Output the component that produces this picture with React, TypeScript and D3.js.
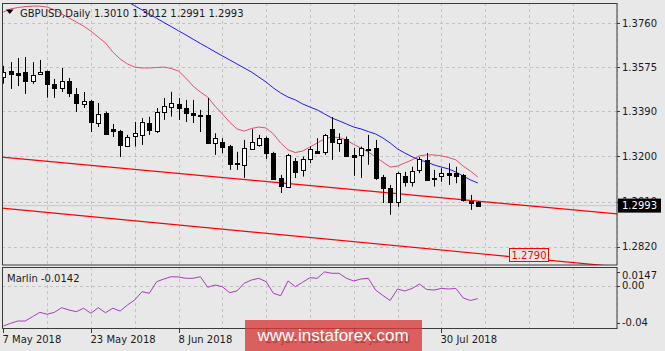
import React, { useEffect, useRef } from 'react';
import { select, scaleLinear, line } from 'd3';

// GBPUSD daily candles, 7 May 2018 .. 6 Aug 2018
const opens = [1.3534, 1.3558, 1.3549, 1.3554, 1.3518, 1.3545, 1.3558, 1.3504, 1.3486, 1.3516,
  1.3461, 1.3421, 1.3432, 1.3341, 1.3381, 1.3315, 1.3307, 1.3245, 1.3285, 1.3290,
  1.3339, 1.3308, 1.3388, 1.3408, 1.3418, 1.3402, 1.3381, 1.3374, 1.3374, 1.3255,
  1.3261, 1.3243, 1.3170, 1.3164, 1.3234, 1.3248, 1.3276, 1.3215, 1.3108, 1.3073,
  1.3182, 1.3140, 1.3188, 1.3224, 1.3218, 1.3315, 1.3255, 1.3272, 1.3206, 1.3206,
  1.3231, 1.3234, 1.3114, 1.3067, 1.3010, 1.3117, 1.3093, 1.3140, 1.3185, 1.3108,
  1.3114, 1.3128, 1.3129, 1.3122, 1.3012, 1.3010];
const highs = [1.3580, 1.3596, 1.3613, 1.3617, 1.3596, 1.3605, 1.3560, 1.3525, 1.3571, 1.3529,
  1.3487, 1.3470, 1.3437, 1.3424, 1.3388, 1.3336, 1.3311, 1.3290, 1.3345, 1.3361,
  1.3366, 1.3403, 1.3445, 1.3471, 1.3445, 1.3437, 1.3437, 1.3395, 1.3445, 1.3297,
  1.3276, 1.3248, 1.3219, 1.3269, 1.3314, 1.3290, 1.3283, 1.3219, 1.3122, 1.3210,
  1.3193, 1.3199, 1.3241, 1.3276, 1.3294, 1.3365, 1.3297, 1.3283, 1.3235, 1.3241,
  1.3290, 1.3269, 1.3122, 1.3080, 1.3135, 1.3135, 1.3156, 1.3198, 1.3214, 1.3143,
  1.3150, 1.3171, 1.3156, 1.3126, 1.3038, 1.3012];
const lows = [1.3505, 1.3483, 1.3495, 1.3462, 1.3504, 1.3542, 1.3446, 1.3445, 1.3470, 1.3449,
  1.3386, 1.3403, 1.3302, 1.3323, 1.3290, 1.3281, 1.3197, 1.3239, 1.3241, 1.3248,
  1.3290, 1.3298, 1.3353, 1.3367, 1.3353, 1.3344, 1.3340, 1.3302, 1.3252, 1.3206,
  1.3213, 1.3143, 1.3143, 1.3109, 1.3227, 1.3241, 1.3189, 1.3101, 1.3046, 1.3067,
  1.3109, 1.3115, 1.3171, 1.3213, 1.3206, 1.3185, 1.3219, 1.3197, 1.3118, 1.3109,
  1.3164, 1.3101, 1.3004, 1.2954, 1.2988, 1.3073, 1.3073, 1.3129, 1.3098, 1.3073,
  1.3093, 1.3080, 1.3087, 1.3010, 1.2975, 1.2991];
const closes = [1.3555, 1.3545, 1.3542, 1.3516, 1.3542, 1.3553, 1.3503, 1.3486, 1.3516, 1.3467,
  1.3423, 1.3432, 1.3345, 1.3379, 1.3293, 1.3307, 1.3248, 1.3283, 1.3297, 1.3345,
  1.3311, 1.3388, 1.3412, 1.3423, 1.3402, 1.3381, 1.3371, 1.3369, 1.3255, 1.3276,
  1.3240, 1.3168, 1.3166, 1.3234, 1.3262, 1.3276, 1.3215, 1.3104, 1.3073, 1.3206,
  1.3135, 1.3188, 1.3230, 1.3217, 1.3290, 1.3260, 1.3272, 1.3199, 1.3199, 1.3234,
  1.3227, 1.3108, 1.3066, 1.3010, 1.3130, 1.3093, 1.3140, 1.3188, 1.3101, 1.3104,
  1.3128, 1.3119, 1.3117, 1.3017, 1.3003, 1.2993];

// moving averages (pink = short, blue = long)
const maFast = [1.3806, 1.3819, 1.3825, 1.3829, 1.3831, 1.3831, 1.3827, 1.3815, 1.3798, 1.3781,
  1.3764, 1.3747, 1.3726, 1.3701, 1.3676, 1.3638, 1.3609, 1.3588, 1.3575, 1.3571,
  1.3571, 1.3573, 1.3575, 1.3569, 1.3558, 1.3529, 1.3495, 1.3470, 1.3449, 1.3411,
  1.3378, 1.3344, 1.3315, 1.3306, 1.3317, 1.3323, 1.3319, 1.3294, 1.3256, 1.3227,
  1.3216, 1.3222, 1.3239, 1.3256, 1.3273, 1.3281, 1.3279, 1.3269, 1.3250, 1.3235,
  1.3218, 1.3197, 1.3176, 1.3155, 1.3159, 1.3172, 1.3185, 1.3202, 1.3206, 1.3206,
  1.3202, 1.3195, 1.3185, 1.3159, 1.3138, 1.3113];
const maSlow = [null, null, null, null, null, null, null, null, null, null,
  null, null, null, null, null, 1.3885, 1.3867, 1.3850, 1.3832, 1.3815,
  1.3797, 1.3780, 1.3762, 1.3745, 1.3727, 1.3710, 1.3692, 1.3674, 1.3657, 1.3639,
  1.3622, 1.3605, 1.3588, 1.3571, 1.3554, 1.3533, 1.3512, 1.3487, 1.3466, 1.3449,
  1.3437, 1.3420, 1.3407, 1.3395, 1.3378, 1.3361, 1.3349, 1.3336, 1.3323, 1.3315,
  1.3304, 1.3294, 1.3277, 1.3256, 1.3231, 1.3214, 1.3198, 1.3185, 1.3176, 1.3164,
  1.3155, 1.3147, 1.3134, 1.3117, 1.3101, 1.3088];

const marlin = [-0.0438, -0.0409, -0.0384, -0.0384, -0.0337, -0.0290, -0.0311, -0.0290, -0.0240, -0.0265,
  -0.0283, -0.0246, -0.0301, -0.0240, -0.0294, -0.0246, -0.0276, -0.0211, -0.0157, -0.0067,
  -0.0084, 0.0041, 0.0070, 0.0095, 0.0092, 0.0078, 0.0078, 0.0095, -0.0019, 0.0005,
  -0.0013, -0.0078, -0.0059, 0.0024, 0.0059, 0.0078, 0.0041, -0.0084, -0.0110, 0.0049,
  -0.0013, 0.0035, 0.0084, 0.0078, 0.0147, 0.0132, 0.0132, 0.0078, 0.0049, 0.0070,
  0.0078, -0.0049, -0.0108, -0.0162, -0.0038, -0.0059, -0.0032, 0.0016, -0.0043, -0.0049,
  -0.0032, -0.0038, -0.0032, -0.0135, -0.0162, -0.0142];

const dateTicks = [0, 12, 24, 36, 48, 60];
const dateLabels = ['7 May 2018', '23 May 2018', '8 Jun 2018', '26 Jun 2018', '12 Jul 2018', '30 Jul 2018'];
const priceTicks = [1.3760, 1.3575, 1.3390, 1.3200, 1.3010, 1.2820];
const marlinTicks = [0.0147, 0.0, -0.04];
const marlinTickLabels = ['0.0147', '0.00', '-0.04'];

// channel lines: [bar index, price]
const channelTop = [[0, 1.3196], [65, 1.3012]];
const channelBottom = [[0, 1.2982], [65, 1.2792]];
const channelLabel = 1.2790;

const symbol = 'GBPUSD,Daily';
const indicatorName = 'Marlin';
const watermark = 'www.instaforex.com';

const W = 665;
const H = 351;
const FONT = 'DejaVu Sans';

const App = () => {
  const svgRef = useRef(null);

  useEffect(() => {
    const svg = select(svgRef.current);
    svg.selectAll('*').remove();

    const left = 2, right = 617;
    const pTop = 3, pBottom = 265;
    const iTop = 267, iBottom = 329;

    const x = scaleLinear().domain([0, 65]).range([3.3, 3.3 + 7.3 * 65]);
    const y = scaleLinear().domain([1.2820, 1.3760]).range([246.8, 23]);
    const ym = scaleLinear().domain([-0.04, 0]).range([322.5, 285.5]);
    const lastBar = Math.floor(x.invert(right));

    svg.append('rect').attr('width', W).attr('height', H).attr('fill', '#e8e8e8');

    const defs = svg.append('defs');
    defs.append('clipPath').attr('id', 'clip-price')
      .append('rect').attr('x', left).attr('y', pTop).attr('width', right - left).attr('height', pBottom - pTop);
    defs.append('clipPath').attr('id', 'clip-ind')
      .append('rect').attr('x', left).attr('y', iTop).attr('width', right - left).attr('height', iBottom - iTop);

    // grid
    const gridBars = [];
    for (let i = 6; i <= lastBar; i += 6) gridBars.push(i);
    const grid = svg.append('g').attr('stroke', '#c2c2c2').attr('stroke-dasharray', '3,3');
    grid.selectAll('.vgrid-p').data(gridBars).join('line')
      .attr('x1', d => Math.round(x(d)) + 0.5).attr('x2', d => Math.round(x(d)) + 0.5)
      .attr('y1', pTop).attr('y2', pBottom);
    grid.selectAll('.vgrid-i').data(gridBars).join('line')
      .attr('x1', d => Math.round(x(d)) + 0.5).attr('x2', d => Math.round(x(d)) + 0.5)
      .attr('y1', iTop).attr('y2', iBottom);
    grid.selectAll('.hgrid').data(priceTicks).join('line')
      .attr('x1', left).attr('x2', right)
      .attr('y1', d => Math.round(y(d)) + 0.5).attr('y2', d => Math.round(y(d)) + 0.5);
    grid.append('line').attr('x1', left).attr('x2', right)
      .attr('y1', Math.round(ym(0)) + 0.5).attr('y2', Math.round(ym(0)) + 0.5);

    const price = svg.append('g').attr('clip-path', 'url(#clip-price)');

    // bid line
    const last = closes.length - 1;
    price.append('line').attr('x1', left).attr('x2', right)
      .attr('y1', y(closes[last])).attr('y2', y(closes[last]))
      .attr('stroke', '#c8c8c8');

    // channel
    [channelTop, channelBottom].forEach(ch => {
      const p = scaleLinear().domain([ch[0][0], ch[1][0]]).range([ch[0][1], ch[1][1]]);
      price.append('line')
        .attr('x1', x(-1)).attr('y1', y(p(-1)))
        .attr('x2', x(lastBar + 2)).attr('y2', y(p(lastBar + 2)))
        .attr('stroke', '#ff0000').attr('stroke-width', 1.2);
    });

    // moving averages
    const maLine = line().defined(d => d != null).x((d, i) => x(i)).y(d => y(d));
    price.append('path').attr('d', maLine(maFast)).attr('fill', 'none')
      .attr('stroke', '#e2506c').attr('stroke-width', 1);
    price.append('path').attr('d', maLine(maSlow)).attr('fill', 'none')
      .attr('stroke', '#1a1aff').attr('stroke-width', 1);

    // candles
    const bars = opens.map((o, i) => ({ i, o, h: highs[i], l: lows[i], c: closes[i] }));
    const cg = price.selectAll('.candle').data(bars).join('g').attr('class', 'candle');
    cg.append('line')
      .attr('x1', d => Math.round(x(d.i)) + 0.5).attr('x2', d => Math.round(x(d.i)) + 0.5)
      .attr('y1', d => y(d.h)).attr('y2', d => y(d.l))
      .attr('stroke', '#000');
    cg.append('rect')
      .attr('x', d => Math.round(x(d.i)) - 1.5)
      .attr('y', d => Math.round(y(Math.max(d.o, d.c))) + 0.5)
      .attr('width', 4)
      .attr('height', d => Math.max(1, Math.round(Math.abs(y(d.o) - y(d.c)))))
      .attr('fill', d => (d.c >= d.o ? '#ffffff' : '#000000'))
      .attr('stroke', '#000');

    // channel price label
    const ly = y(channelLabel);
    svg.append('rect').attr('x', 509.5).attr('y', Math.round(ly) - 5.5).attr('width', 39).attr('height', 13)
      .attr('fill', '#e8e8e8').attr('stroke', '#ff0000');
    svg.append('text').attr('x', 529).attr('y', Math.round(ly) + 1).attr('dy', '0.35em')
      .attr('text-anchor', 'middle').attr('font-family', FONT).attr('font-size', 10)
      .attr('fill', '#ff0000').text(channelLabel.toFixed(4));

    // indicator
    svg.append('g').attr('clip-path', 'url(#clip-ind)')
      .append('path')
      .attr('d', line().x((d, i) => x(i)).y(d => ym(d))(marlin))
      .attr('fill', 'none').attr('stroke', '#a73cbd').attr('stroke-width', 1);

    // frames
    const frame = svg.append('g').attr('fill', 'none').attr('stroke', '#3a3a3a');
    frame.append('rect').attr('x', left + 0.5).attr('y', pTop + 0.5)
      .attr('width', right - left - 0.5).attr('height', pBottom - pTop - 0.5);
    frame.append('rect').attr('x', left + 0.5).attr('y', iTop + 0.5)
      .attr('width', right - left - 0.5).attr('height', iBottom - iTop - 1);

    // right axis
    const axis = svg.append('g').attr('font-family', FONT).attr('font-size', 10).attr('fill', '#1a1a1a');
    axis.selectAll('.ptick').data(priceTicks).join('line')
      .attr('x1', right).attr('x2', right + 3)
      .attr('y1', d => Math.round(y(d)) + 0.5).attr('y2', d => Math.round(y(d)) + 0.5)
      .attr('stroke', '#3a3a3a');
    axis.selectAll('.plabel').data(priceTicks).join('text')
      .attr('x', right + 5).attr('y', d => y(d)).attr('dy', '0.35em')
      .text(d => d.toFixed(4));
    axis.selectAll('.mtick').data(marlinTicks).join('line')
      .attr('x1', right).attr('x2', right + 3)
      .attr('y1', d => Math.round(ym(d)) + 0.5).attr('y2', d => Math.round(ym(d)) + 0.5)
      .attr('stroke', '#3a3a3a');
    axis.selectAll('.mlabel').data(marlinTicks).join('text')
      .attr('x', right + 5).attr('y', d => Math.max(ym(d), iTop + 8)).attr('dy', '0.35em')
      .text((d, i) => marlinTickLabels[i]);

    // last price box
    const cy = y(closes[last]);
    svg.append('rect').attr('x', right + 1).attr('y', cy - 7).attr('width', 43).attr('height', 14).attr('fill', '#000');
    svg.append('text').attr('x', right + 5).attr('y', cy).attr('dy', '0.35em')
      .attr('font-family', FONT).attr('font-size', 10).attr('fill', '#fff')
      .text(closes[last].toFixed(4));

    // bottom axis
    axis.selectAll('.dtick').data(dateTicks).join('line')
      .attr('x1', d => Math.round(x(d)) + 0.5).attr('x2', d => Math.round(x(d)) + 0.5)
      .attr('y1', iBottom).attr('y2', iBottom + 4)
      .attr('stroke', '#3a3a3a');
    axis.selectAll('.dlabel').data(dateTicks).join('text')
      .attr('x', d => Math.round(x(d)) - 0.5).attr('y', 343)
      .text((d, i) => dateLabels[i]);

    // titles
    svg.append('path').attr('d', 'M6,9.5 L13.5,9.5 L9.75,14 Z').attr('fill', '#000');
    svg.append('text').attr('x', 20).attr('y', 16.5).attr('font-family', FONT).attr('font-size', 10)
      .attr('fill', '#1a1a1a').text(symbol);
    svg.append('text').attr('x', 94).attr('y', 16.5).attr('font-family', FONT).attr('font-size', 10)
      .attr('fill', '#1a1a1a')
      .text([opens[last], highs[last], lows[last], closes[last]].map(v => v.toFixed(4)).join(' '));
    svg.append('text').attr('x', 7).attr('y', 281.5).attr('font-family', FONT).attr('font-size', 10)
      .attr('fill', '#1a1a1a').text(`${indicatorName} ${marlin[last].toFixed(4)}`);

    // watermark
    svg.append('rect').attr('x', 245).attr('y', 320).attr('width', 177).attr('height', 31)
      .attr('fill', '#d83c3c').attr('opacity', 0.8);
    svg.append('text').attr('x', 333).attr('y', 341).attr('text-anchor', 'middle')
      .attr('font-family', 'Liberation Sans').attr('font-size', 17).attr('fill', '#fff')
      .text(watermark);
  }, []);

  return (
    <svg ref={svgRef} width={W} height={H}
      style={{ position: 'absolute', left: 0, top: 0, display: 'block' }} />
  );
};

export default App;
